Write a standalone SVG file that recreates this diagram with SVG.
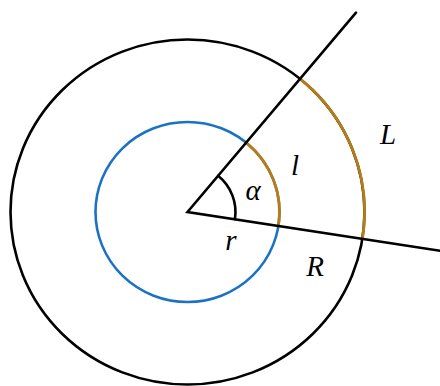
<svg xmlns="http://www.w3.org/2000/svg" width="440" height="386" viewBox="0 0 440 386">
<style>
.k{fill:none;stroke:#000;stroke-width:2.6;stroke-linecap:round}
.b{fill:none;stroke:#1a72c4;stroke-width:2.6}
.o{fill:none;stroke:#b57d17;stroke-width:2.8}
.t{font-family:'Liberation Serif','DejaVu Serif',serif;font-style:italic;font-size:29px;fill:#000;text-anchor:middle}
</style>
<rect width="440" height="386" fill="#fff"/>
<g id="outer-circle"><ellipse class="k" cx="187.5" cy="212" rx="177" ry="172.5"/></g>
<g id="inner-circle"><ellipse class="b" cx="187.5" cy="212" rx="92" ry="90"/></g>
<g id="connectors">
<path class="o" d="M300.1 78.9 A177 172.5 0 0 1 362.4 238.8"/>
<path class="o" d="M246.1 142.6 A92 90 0 0 1 278.4 225.9"/>
<polyline class="k" points="356,12.7 187.5,212 440,250.7" stroke-linejoin="miter"/>
<path class="k" d="M218.1 175.8 A48 47 0 0 1 234.9 219.3"/>
</g>
<g id="labels">
<text class="t" x="388" y="144">L</text>
<text class="t" x="295" y="175">l</text>
<text class="t" x="253" y="200">α</text>
<text class="t" x="231" y="250">r</text>
<text class="t" x="315" y="276">R</text>
</g>
</svg>
